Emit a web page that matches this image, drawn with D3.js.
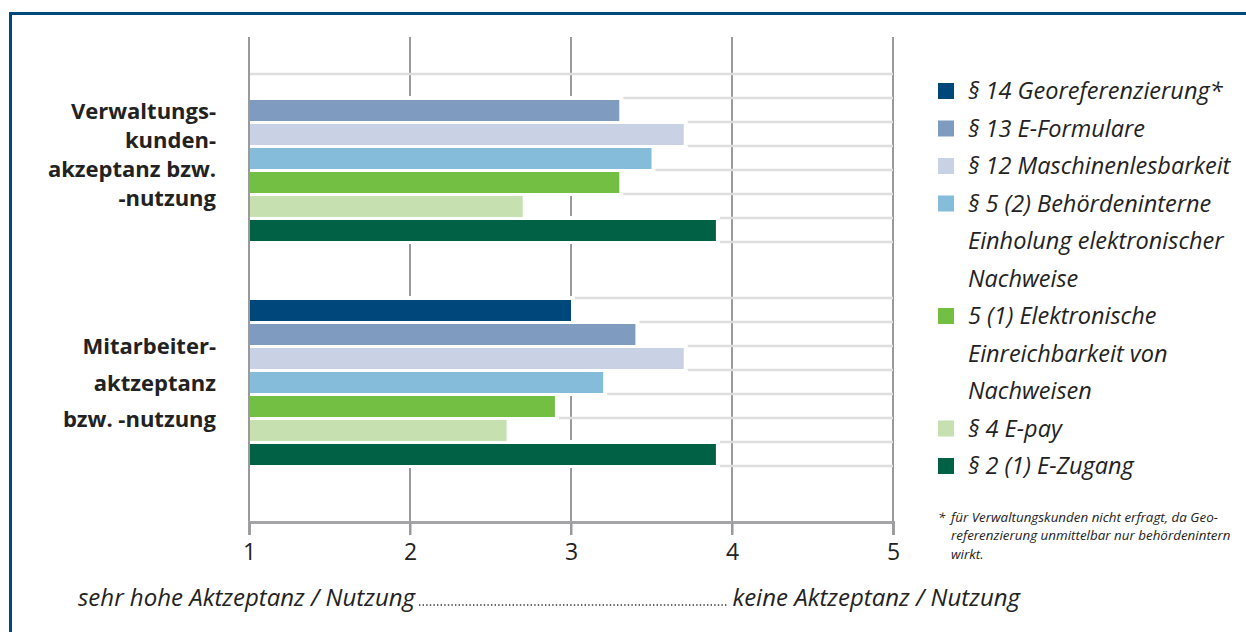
<!DOCTYPE html>
<html>
<head>
<meta charset="utf-8">
<script src="https://cdn.jsdelivr.net/npm/d3@7"></script>
<style>
  html, body { margin: 0; padding: 0; background: #fff; }
  svg { display: block; }
  text { font-family: "Open Sans", Lato, sans-serif; fill: #222; }
</style>
</head>
<body>
<svg id="chart" width="1246" height="632"></svg>
<script>
// Respondent groups (y categories) and their wrapped labels
const groups = ["Verwaltungskunden", "Mitarbeiter"];
const groupLabelLines = [
  ["Verwaltungs-", "kunden-", "akzeptanz bzw.", "-nutzung"],
  ["Mitarbeiter-", "aktzeptanz", "bzw. -nutzung"]
];

// Paragraph series
const series = ["§14", "§13", "§12", "§5(2)", "§5(1)", "§4", "§2(1)"];
const seriesColors = ["#00477b", "#7f9bc0", "#c8d2e4", "#84bcd9", "#72bf44", "#c6e0b0", "#006145"];
const legendLines = [
  ["§ 14 Georeferenzierung*"],
  ["§ 13 E-Formulare"],
  ["§ 12 Maschinenlesbarkeit"],
  ["§ 5 (2) Behördeninterne", "Einholung elektronischer", "Nachweise"],
  ["5 (1) Elektronische", "Einreichbarkeit von", "Nachweisen"],
  ["§ 4 E-pay"],
  ["§ 2 (1) E-Zugang"]
];

// Mean ratings (1 = very high acceptance … 5 = none); null = not asked
const valuesVerwaltungskunden = [null, 3.3, 3.7, 3.5, 3.3, 2.7, 3.9];
const valuesMitarbeiter       = [3.0, 3.4, 3.7, 3.2, 2.9, 2.6, 3.9];
const groupValues = [valuesVerwaltungskunden, valuesMitarbeiter];

const xTicks = [1, 2, 3, 4, 5];
const footnoteLines = [
  "für Verwaltungskunden nicht erfragt, da Geo-",
  "referenzierung unmittelbar nur behördenintern",
  "wirkt."
];
const scaleLeft = "sehr hohe Aktzeptanz / Nutzung";
const scaleRight = "keine Aktzeptanz / Nutzung";

const svg = d3.select("#chart");

// outer frame (open to the right and bottom)
svg.append("path")
  .attr("d", "M10.5,640 V13.5 H1260")
  .attr("fill", "none")
  .attr("stroke", "#00497d")
  .attr("stroke-width", 3);

const x = d3.scaleLinear().domain([1, 5]).range([249, 893]);
const yGroup = d3.scaleBand().domain(groups).range([74, 466]).paddingInner(0.25).paddingOuter(0);
const ySeries = d3.scaleBand().domain(series).range([0, yGroup.bandwidth()]);

const gridTop = 37, axisY = 522, tickBottom = 535;

// vertical grid lines (2..5)
svg.append("g").selectAll("line")
  .data(xTicks.slice(1))
  .join("line")
  .attr("x1", d => x(d)).attr("x2", d => x(d))
  .attr("y1", gridTop).attr("y2", tickBottom)
  .attr("stroke", "#9a9a9c").attr("stroke-width", 2);

// horizontal guide lines at every slot boundary
const hLines = [];
groups.forEach(g => {
  series.forEach(s => hLines.push(yGroup(g) + ySeries(s)));
  hLines.push(yGroup(g) + yGroup.bandwidth());
});
svg.append("g").selectAll("line")
  .data(hLines)
  .join("line")
  .attr("x1", x(1)).attr("x2", x(5))
  .attr("y1", d => d).attr("y2", d => d)
  .attr("stroke", "#dedede").attr("stroke-width", 2.5);

// bars with a white halo that masks the grid behind them
const barData = [];
groups.forEach((g, gi) => {
  series.forEach((s, si) => {
    const v = groupValues[gi][si];
    if (v != null) barData.push({ g, s, v, color: seriesColors[si] });
  });
});
const bars = svg.append("g");
bars.selectAll("rect.halo")
  .data(barData)
  .join("rect")
  .attr("class", "halo")
  .attr("x", x(1))
  .attr("y", d => yGroup(d.g) + ySeries(d.s) - 2)
  .attr("width", d => x(d.v) - x(1) + 4)
  .attr("height", ySeries.bandwidth() + 4)
  .attr("fill", "#fff");
bars.selectAll("rect.bar")
  .data(barData)
  .join("rect")
  .attr("class", "bar")
  .attr("x", x(1) + 1)
  .attr("y", d => yGroup(d.g) + ySeries(d.s) + 2)
  .attr("width", d => x(d.v) - x(1) - 1)
  .attr("height", ySeries.bandwidth() - 3)
  .attr("fill", d => d.color);

// baseline axis line at value 1 and horizontal axis
svg.append("line")
  .attr("x1", x(1)).attr("x2", x(1))
  .attr("y1", gridTop).attr("y2", tickBottom)
  .attr("stroke", "#9a9a9c").attr("stroke-width", 2);

const xAxis = d3.axisBottom(x).tickValues(xTicks).tickFormat(d3.format("d")).tickSize(tickBottom - axisY).tickPadding(9);
const axisG = svg.append("g").attr("transform", `translate(0,${axisY})`).call(xAxis);
axisG.select(".domain").attr("stroke", "#a5a5a7").attr("stroke-width", 3);
axisG.selectAll(".tick line").attr("stroke", "#9a9a9c").attr("stroke-width", 2);
axisG.selectAll(".tick text")
  .attr("font-family", "\"Open Sans\", sans-serif")
  .attr("font-size", 23)
  .attr("font-weight", 400)
  .attr("fill", "#222");

// group labels on the left, right aligned
const labelSpacing = [29, 36.5];
const labelFirstBaseline = [119, 354];
groups.forEach((g, gi) => {
  const t = svg.append("text")
    .attr("text-anchor", "end")
    .attr("font-size", 22)
    .attr("font-weight", 700);
  groupLabelLines[gi].forEach((line, li) => {
    t.append("tspan")
      .attr("x", 216)
      .attr("y", labelFirstBaseline[gi] + li * labelSpacing[gi])
      .text(line);
  });
});

// legend
const legendX = 938, legendTextX = 968, legendStep = 37.5;
let row = 0;
const legend = svg.append("g");
legendLines.forEach((lines, i) => {
  const base = 99 + row * legendStep;
  legend.append("rect")
    .attr("x", legendX).attr("y", base - 16)
    .attr("width", 16).attr("height", 16)
    .attr("fill", seriesColors[i]);
  lines.forEach((line, li) => {
    legend.append("text")
      .attr("x", legendTextX)
      .attr("y", base + li * legendStep)
      .attr("font-size", 23.5)
      .attr("font-style", "italic")
      .text(line);
  });
  row += lines.length;
});

// footnote
const footBase = 522, footStep = 18.3, footSize = 13.4;
svg.append("text")
  .attr("x", 938).attr("y", footBase)
  .attr("font-size", footSize).attr("font-style", "italic")
  .text("*");
footnoteLines.forEach((line, i) => {
  svg.append("text")
    .attr("x", 951).attr("y", footBase + i * footStep)
    .attr("font-size", footSize).attr("font-style", "italic")
    .text(line);
});

// scale description below the axis
const scaleBase = 606;
const leftT = svg.append("text")
  .attr("x", 78).attr("y", scaleBase)
  .attr("font-size", 24).attr("font-style", "italic")
  .text(scaleLeft);
const rightT = svg.append("text")
  .attr("x", 1020).attr("y", scaleBase)
  .attr("text-anchor", "end")
  .attr("font-size", 24).attr("font-style", "italic")
  .text(scaleRight);
const lEnd = 78 + leftT.node().getComputedTextLength() + 4;
const rStart = 1020 - rightT.node().getComputedTextLength() - 4;
svg.append("line")
  .attr("x1", lEnd).attr("x2", rStart)
  .attr("y1", scaleBase - 1).attr("y2", scaleBase - 1)
  .attr("stroke", "#333").attr("stroke-width", 1.6)
  .attr("stroke-dasharray", "1.4,2.2");
</script>
</body>
</html>
